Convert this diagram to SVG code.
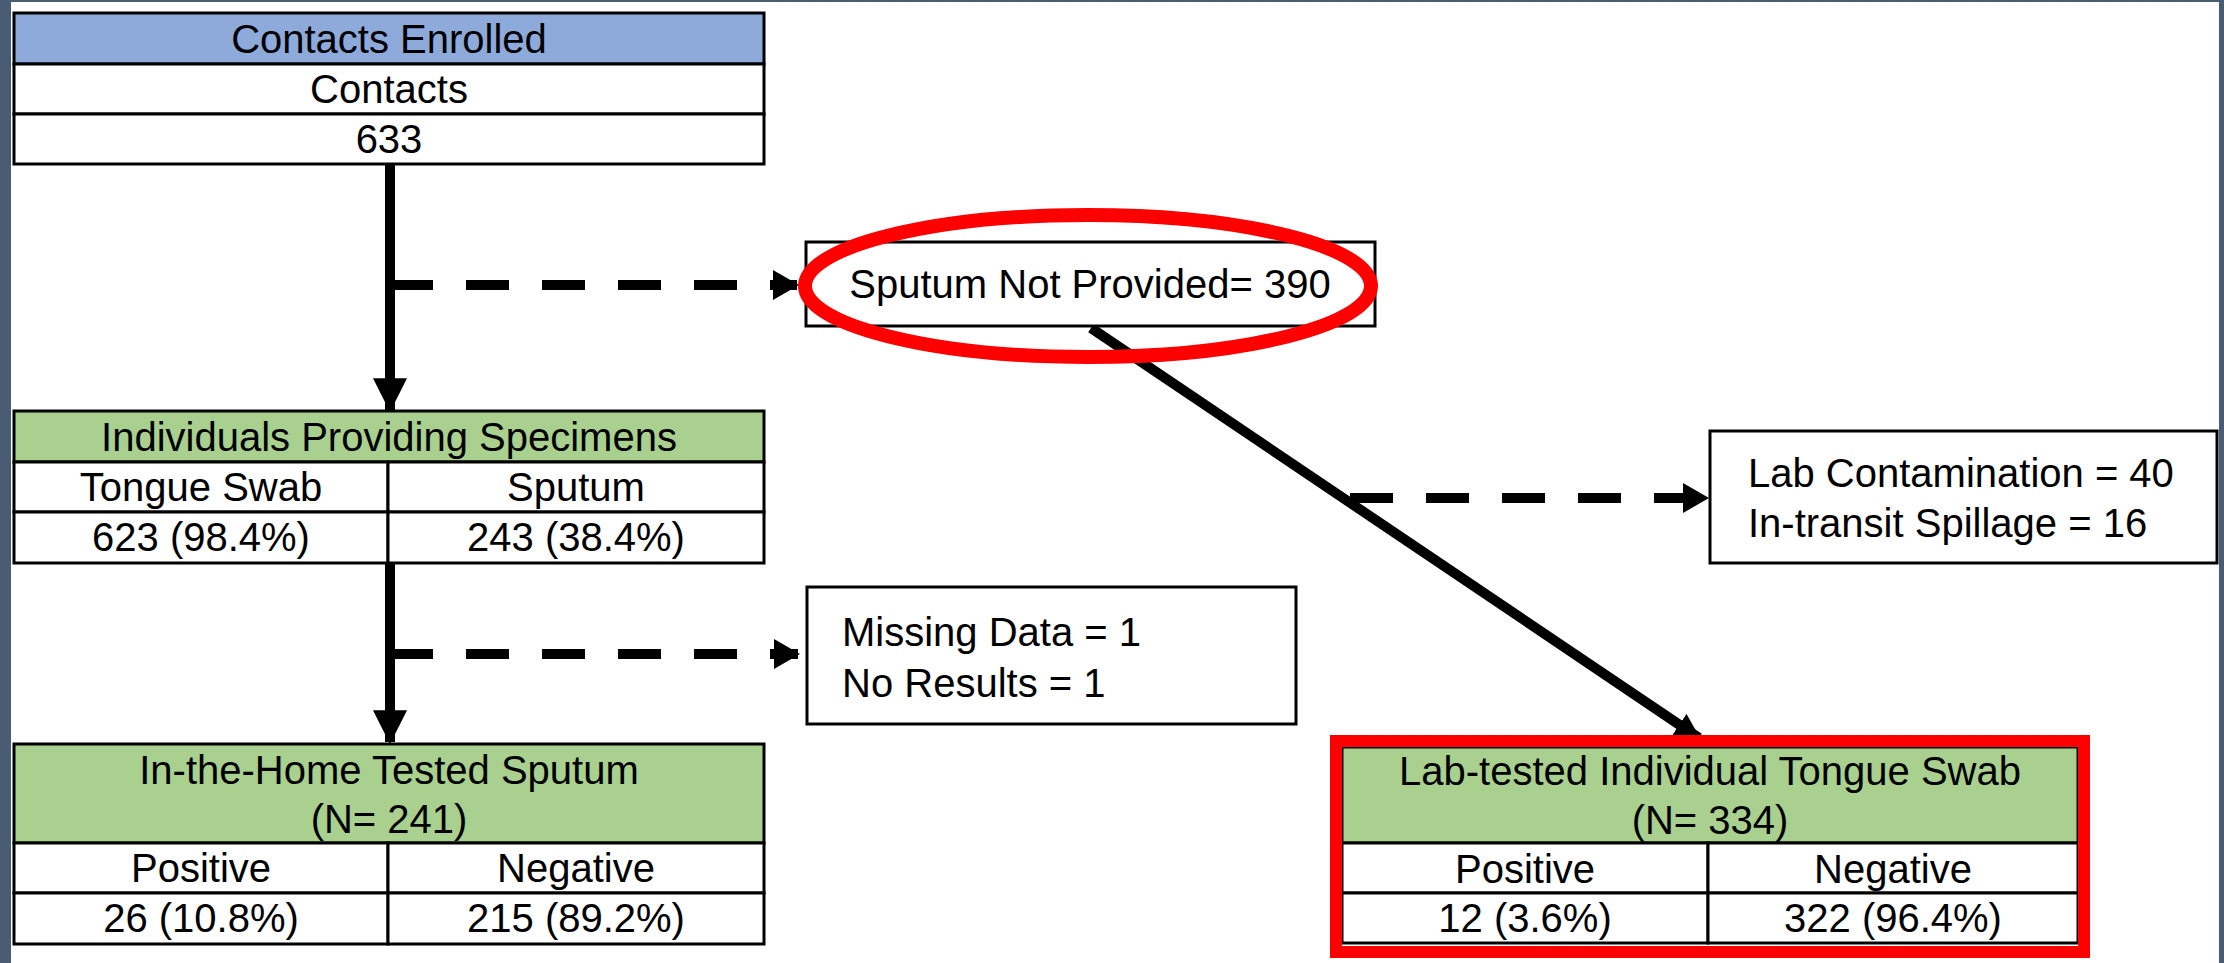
<svg xmlns="http://www.w3.org/2000/svg" width="2224" height="963" viewBox="0 0 2224 963">
<style>
text{font-family:"Liberation Sans",Arial,sans-serif;font-size:40px;fill:#000}
.c{text-anchor:middle}
.cell{fill:#fff;stroke:#000;stroke-width:3}
.blue{fill:#8eaadb;stroke:#000;stroke-width:3}
.green{fill:#a9d08e;stroke:#000;stroke-width:3}
.solid{stroke:#000;stroke-width:10;fill:none}
.dash{stroke:#000;stroke-width:10;fill:none;stroke-dasharray:43 33}
</style>
<defs>
<marker id="ah" markerUnits="userSpaceOnUse" markerWidth="34" markerHeight="34" refX="30" refY="16" orient="auto" viewBox="0 0 32 32">
<path d="M0,0 L32,16 L0,32 Z" fill="#000"/>
</marker>
<marker id="ahs" markerUnits="userSpaceOnUse" markerWidth="26" markerHeight="26" refX="22" refY="12" orient="auto" viewBox="0 0 24 24">
<path d="M0,0 L24,12 L0,24 Z" fill="#000"/>
</marker>
<marker id="ahd" markerUnits="userSpaceOnUse" markerWidth="26" markerHeight="32" refX="24" refY="15" orient="auto" viewBox="0 0 26 30">
<path d="M0,0 L26,15 L0,30 Z" fill="#000"/>
</marker>
</defs>
<rect x="0" y="0" width="2224" height="963" fill="#fff"/>
<rect x="0" y="0" width="11" height="963" fill="#4a5b74"/>
<rect x="2219" y="0" width="5" height="963" fill="#4a5b74"/>
<rect x="0" y="0" width="2224" height="2" fill="#4a5b74"/>

<g id="connectors">
<line class="solid" x1="390" y1="164" x2="390" y2="410" marker-end="url(#ah)"/>
<line class="dash" x1="390" y1="285" x2="797" y2="285" marker-end="url(#ahd)"/>
<line class="solid" x1="390" y1="563" x2="390" y2="742" marker-end="url(#ah)"/>
<line class="dash" x1="390" y1="654" x2="798" y2="654" marker-end="url(#ahd)"/>
<line class="solid" x1="1091" y1="328" x2="1699" y2="738" marker-end="url(#ahs)"/>
<line class="dash" x1="1350" y1="498" x2="1707" y2="498" marker-end="url(#ahd)"/>
</g>

<g id="contacts-enrolled">
<rect class="blue" x="14" y="13" width="750" height="51"/>
<rect class="cell" x="14" y="64" width="750" height="50"/>
<rect class="cell" x="14" y="114" width="750" height="50"/>
<text class="c" x="389" y="53">Contacts Enrolled</text>
<text class="c" x="389" y="103">Contacts</text>
<text class="c" x="389" y="153">633</text>
</g>

<g id="sputum-not-provided">
<rect class="cell" x="806" y="242" width="569" height="84"/>
<text class="c" x="1090" y="298">Sputum Not Provided= 390</text>
<ellipse cx="1088" cy="286" rx="283" ry="71" fill="none" stroke="#ff0000" stroke-width="14"/>
</g>

<g id="individuals-providing">
<rect class="green" x="14" y="411" width="750" height="51"/>
<rect class="cell" x="14" y="462" width="374" height="50"/>
<rect class="cell" x="388" y="462" width="376" height="50"/>
<rect class="cell" x="14" y="512" width="374" height="51"/>
<rect class="cell" x="388" y="512" width="376" height="51"/>
<text class="c" x="389" y="451">Individuals Providing Specimens</text>
<text class="c" x="201" y="501">Tongue Swab</text>
<text class="c" x="576" y="501">Sputum</text>
<text class="c" x="201" y="551">623 (98.4%)</text>
<text class="c" x="576" y="551">243 (38.4%)</text>
</g>

<g id="missing-data">
<rect class="cell" x="807" y="587" width="489" height="137"/>
<text x="842" y="646">Missing Data = 1</text>
<text x="842" y="697">No Results = 1</text>
</g>

<g id="lab-contamination">
<rect class="cell" x="1710" y="431" width="507" height="132"/>
<text x="1748" y="487">Lab Contamination = 40</text>
<text x="1748" y="537">In-transit Spillage = 16</text>
</g>

<g id="in-home-tested">
<rect class="green" x="14" y="744" width="750" height="99"/>
<rect class="cell" x="14" y="843" width="374" height="50"/>
<rect class="cell" x="388" y="843" width="376" height="50"/>
<rect class="cell" x="14" y="893" width="374" height="51"/>
<rect class="cell" x="388" y="893" width="376" height="51"/>
<text class="c" x="389" y="784">In-the-Home Tested Sputum</text>
<text class="c" x="389" y="833">(N= 241)</text>
<text class="c" x="201" y="882">Positive</text>
<text class="c" x="576" y="882">Negative</text>
<text class="c" x="201" y="932">26 (10.8%)</text>
<text class="c" x="576" y="932">215 (89.2%)</text>
</g>

<g id="lab-tested">
<rect class="green" x="1342" y="747" width="736" height="96"/>
<rect class="cell" x="1342" y="843" width="366" height="50"/>
<rect class="cell" x="1708" y="843" width="370" height="50"/>
<rect class="cell" x="1342" y="893" width="366" height="50"/>
<rect class="cell" x="1708" y="893" width="370" height="50"/>
<text class="c" x="1710" y="785">Lab-tested Individual Tongue Swab</text>
<text class="c" x="1710" y="834">(N= 334)</text>
<text class="c" x="1525" y="883">Positive</text>
<text class="c" x="1893" y="883">Negative</text>
<text class="c" x="1525" y="932">12 (3.6%)</text>
<text class="c" x="1893" y="932">322 (96.4%)</text>
<rect x="1336" y="741" width="748" height="211" fill="none" stroke="#ff0000" stroke-width="12"/>
</g>
</svg>
